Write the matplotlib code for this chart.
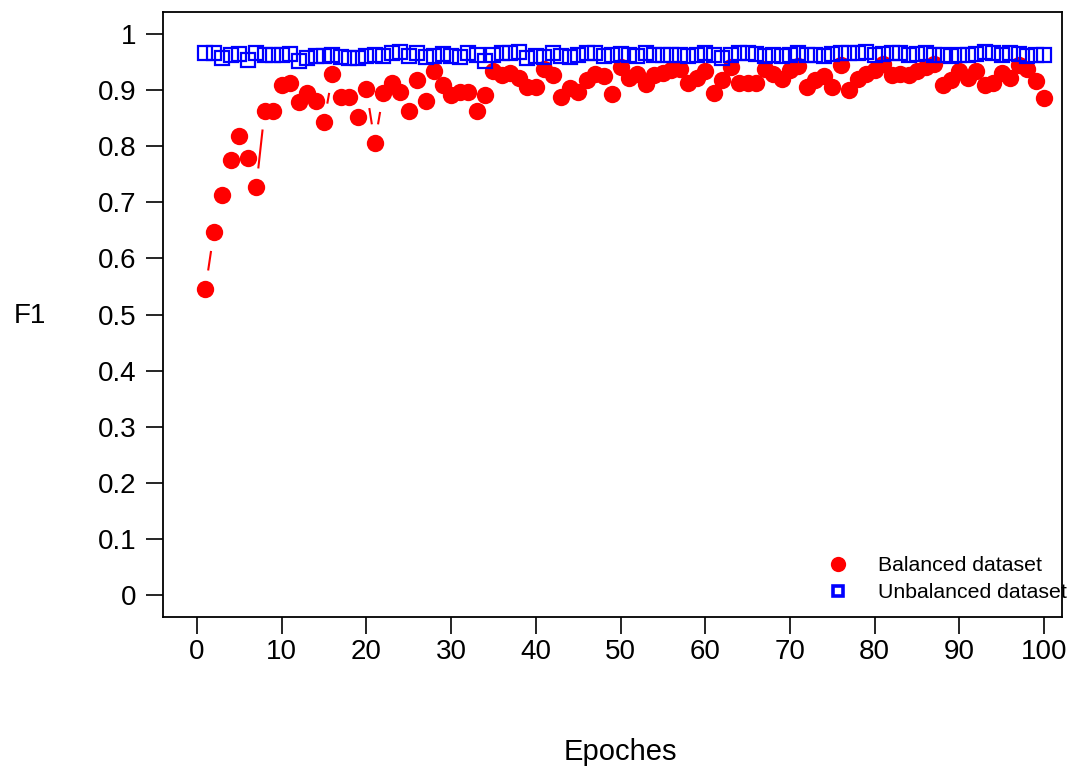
import numpy as np
import matplotlib
matplotlib.use("Agg")
import matplotlib.pyplot as plt

plt.rcParams['font.family'] = ['Liberation Sans', 'DejaVu Sans']

epochs = list(range(1, 101))
balanced = [0.545, 0.647, 0.713, 0.775, 0.818, 0.779, 0.727, 0.864, 0.864, 0.909,
            0.914, 0.879, 0.895, 0.882, 0.843, 0.929, 0.888, 0.889, 0.852, 0.902,
            0.806, 0.895, 0.914, 0.897, 0.864, 0.918, 0.882, 0.934, 0.909, 0.891,
            0.897, 0.898, 0.864, 0.891, 0.934, 0.927, 0.932, 0.922, 0.907, 0.907,
            0.939, 0.927, 0.888, 0.904, 0.898, 0.918, 0.929, 0.925, 0.893, 0.941,
            0.922, 0.929, 0.911, 0.927, 0.932, 0.936, 0.939, 0.913, 0.923, 0.934,
            0.895, 0.918, 0.941, 0.913, 0.913, 0.913, 0.939, 0.930, 0.920, 0.937,
            0.944, 0.907, 0.918, 0.925, 0.906, 0.946, 0.900, 0.920, 0.930, 0.937,
            0.948, 0.927, 0.930, 0.927, 0.934, 0.941, 0.948, 0.909, 0.918, 0.934,
            0.922, 0.934, 0.909, 0.914, 0.932, 0.922, 0.946, 0.939, 0.916, 0.886]
unbalanced = [0.967, 0.966, 0.958, 0.963, 0.965, 0.955, 0.966, 0.964, 0.964, 0.963,
              0.965, 0.952, 0.958, 0.962, 0.962, 0.963, 0.960, 0.958, 0.958, 0.962,
              0.963, 0.962, 0.966, 0.968, 0.962, 0.966, 0.960, 0.961, 0.965, 0.962,
              0.960, 0.966, 0.963, 0.952, 0.963, 0.966, 0.967, 0.968, 0.957, 0.961,
              0.960, 0.967, 0.961, 0.960, 0.963, 0.966, 0.966, 0.962, 0.963, 0.965,
              0.964, 0.962, 0.967, 0.964, 0.963, 0.963, 0.963, 0.962, 0.963, 0.966,
              0.964, 0.958, 0.963, 0.966, 0.966, 0.965, 0.962, 0.963, 0.961, 0.964,
              0.966, 0.963, 0.964, 0.962, 0.965, 0.966, 0.967, 0.967, 0.968, 0.964,
              0.965, 0.966, 0.966, 0.964, 0.965, 0.966, 0.963, 0.964, 0.962, 0.963,
              0.963, 0.965, 0.968, 0.966, 0.963, 0.966, 0.965, 0.962, 0.963, 0.963]

xticks = list(range(0, 101, 10))
yticks = [round(0.1 * i, 1) for i in range(11)]
ytick_labels = ['0', '0.1', '0.2', '0.3', '0.4', '0.5', '0.6', '0.7', '0.8', '0.9', '1']

W, H = 1080, 775
fig = plt.figure(figsize=(W / 100, H / 100), dpi=100)
left, right, top, bottom = 163, 1062, 12, 617
ax = fig.add_axes([left / W, 1 - bottom / H, (right - left) / W, (bottom - top) / H])
ax.set_xlim(-4.0, 102.1)
ax.set_ylim(-0.04, 1.04)

red = '#ff0000'
blue = '#0000ff'


def gapped_segments(xs, ys, color, gap_px):
    tr = ax.transData
    inv = tr.inverted()
    pts = tr.transform(np.column_stack([xs, ys]))
    for i in range(len(pts) - 1):
        p1, p2 = pts[i], pts[i + 1]
        d = np.hypot(*(p2 - p1))
        if d > 2 * gap_px + 1:
            u = (p2 - p1) / d
            a = inv.transform(p1 + u * gap_px)
            b = inv.transform(p2 - u * gap_px)
            ax.plot([a[0], b[0]], [a[1], b[1]], color=color, lw=1.5,
                    solid_capstyle='butt', zorder=2)


gapped_segments(epochs, balanced, red, 19)
gapped_segments(epochs, unbalanced, blue, 19)

ax.plot(epochs, balanced, 'o', ms=12.5, color=red, mec=red, mew=0, zorder=3,
        label='Balanced dataset')
ax.plot(epochs, unbalanced, 's', ms=10.5, mfc='none', mec=blue, mew=1.6, zorder=4,
        label='Unbalanced dataset')

ax.set_xticks(xticks)
ax.set_xticklabels([str(t) for t in xticks])
ax.set_yticks(yticks)
ax.set_yticklabels(ytick_labels)
ax.tick_params(axis='both', direction='out', length=12, width=1.2, labelsize=20,
               colors='black')
ax.tick_params(axis='x', pad=4)
ax.tick_params(axis='y', pad=7)
for s in ax.spines.values():
    s.set_linewidth(1.3)

fig.text(30 / W, 1 - 316 / H, 'F1', fontsize=20, ha='center', va='center')
fig.text(620 / W, 1 - 752 / H, 'Epoches', fontsize=21, ha='center', va='center')

leg = ax.legend(loc='upper left', bbox_to_anchor=(829 / W, 1 - 556 / H),
                bbox_transform=fig.transFigure, frameon=False, fontsize=15.3,
                handlelength=0.85, handletextpad=1.45, labelspacing=0.38,
                borderpad=0, borderaxespad=0)
leg.legend_handles[0].set_markersize(11)
leg.legend_handles[1].set_markersize(6.5)
leg.legend_handles[1].set_markeredgewidth(2.6)

fig.savefig('out.png', dpi=100)
